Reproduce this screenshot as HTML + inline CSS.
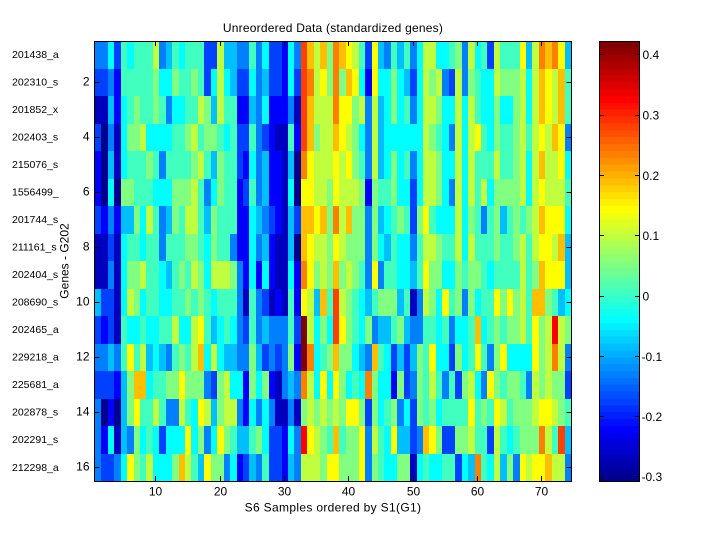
<!DOCTYPE html>
<html><head><meta charset="utf-8"><style>
body{margin:0;width:720px;height:540px;background:#fff;position:relative;overflow:hidden}
.hm{position:absolute;left:95px;top:41px;width:476px;height:440px;display:grid;grid-template-columns:repeat(74,1fr);grid-template-rows:repeat(16,1fr)}
.hm>*{display:block}
k0{background:#00008f}k1{background:#0000bf}k2{background:#0000ff}k3{background:#0040ff}k4{background:#0080ff}k5{background:#00bfff}k6{background:#00ffff}k7{background:#40ffbf}k8{background:#80ff80}k9{background:#bfff40}ka{background:#ffff00}kb{background:#ffbf00}kc{background:#ff8000}kd{background:#ff4000}ke{background:#ff0000}kf{background:#bf0000}kg{background:#800000}
.cb{position:absolute;left:600px;top:41px;width:40px;height:440px;background:linear-gradient(to top,#00008f 0 1.5625%,#00009f 0 3.125%,#0000af 0 4.6875%,#0000bf 0 6.25%,#0000cf 0 7.8125%,#0000df 0 9.375%,#0000ef 0 10.9375%,#0000ff 0 12.5%,#0010ff 0 14.0625%,#0020ff 0 15.625%,#0030ff 0 17.1875%,#0040ff 0 18.75%,#0050ff 0 20.3125%,#0060ff 0 21.875%,#0070ff 0 23.4375%,#0080ff 0 25%,#008fff 0 26.5625%,#009fff 0 28.125%,#00afff 0 29.6875%,#00bfff 0 31.25%,#00cfff 0 32.8125%,#00dfff 0 34.375%,#00efff 0 35.9375%,#00ffff 0 37.5%,#10ffef 0 39.0625%,#20ffdf 0 40.625%,#30ffcf 0 42.1875%,#40ffbf 0 43.75%,#50ffaf 0 45.3125%,#60ff9f 0 46.875%,#70ff8f 0 48.4375%,#80ff80 0 50%,#8fff70 0 51.5625%,#9fff60 0 53.125%,#afff50 0 54.6875%,#bfff40 0 56.25%,#cfff30 0 57.8125%,#dfff20 0 59.375%,#efff10 0 60.9375%,#ffff00 0 62.5%,#ffef00 0 64.0625%,#ffdf00 0 65.625%,#ffcf00 0 67.1875%,#ffbf00 0 68.75%,#ffaf00 0 70.3125%,#ff9f00 0 71.875%,#ff8f00 0 73.4375%,#ff8000 0 75%,#ff7000 0 76.5625%,#ff6000 0 78.125%,#ff5000 0 79.6875%,#ff4000 0 81.25%,#ff3000 0 82.8125%,#ff2000 0 84.375%,#ff1000 0 85.9375%,#ff0000 0 87.5%,#ef0000 0 89.0625%,#df0000 0 90.625%,#cf0000 0 92.1875%,#bf0000 0 93.75%,#af0000 0 95.3125%,#9f0000 0 96.875%,#8f0000 0 98.4375%,#800000 0 100%)}
svg{position:absolute;left:0;top:0}
</style></head><body>
<div class="hm">
<k4></k4><k4></k4><k6></k6><k3></k3><k7></k7><k6></k6><k7></k7><k7></k7><k7></k7><k9></k9><k4></k4><k5></k5><k7></k7><k6></k6><k7></k7><k7></k7><k7></k7><k3></k3><k3></k3><k9></k9><k5></k5><k5></k5><k4></k4><k4></k4><k7></k7><k4></k4><k6></k6><k3></k3><k3></k3><k2></k2><k6></k6><k4></k4><kd></kd><kb></kb><k9></k9><kb></kb><k8></k8><kc></kc><kb></kb><ka></ka><k9></k9><k7></k7><k3></k3><ka></ka><k5></k5><k4></k4><k7></k7><k5></k5><k7></k7><k4></k4><k6></k6><k9></k9><k9></k9><k6></k6><k6></k6><k7></k7><k8></k8><k4></k4><k9></k9><k6></k6><k7></k7><k3></k3><k9></k9><k7></k7><k7></k7><k7></k7><ka></ka><k5></k5><k9></k9><kc></kc><kb></kb><kc></kc><ka></ka><k5></k5>
<k3></k3><k3></k3><k4></k4><k2></k2><k7></k7><k7></k7><k7></k7><k7></k7><k7></k7><k8></k8><k6></k6><k6></k6><k8></k8><k7></k7><k7></k7><k8></k8><k7></k7><k3></k3><k6></k6><k9></k9><k6></k6><k5></k5><k3></k3><k3></k3><k6></k6><k4></k4><k5></k5><k3></k3><k3></k3><k2></k2><k6></k6><k3></k3><kd></kd><kc></kc><k9></k9><ka></ka><k8></k8><kc></kc><k8></k8><kb></kb><ka></ka><k6></k6><k2></k2><ka></ka><k6></k6><k6></k6><k8></k8><k6></k6><k5></k5><k3></k3><k6></k6><k9></k9><k8></k8><k9></k9><k4></k4><k3></k3><k9></k9><k4></k4><k8></k8><k7></k7><k6></k6><k6></k6><k9></k9><k8></k8><k8></k8><k8></k8><k9></k9><k6></k6><k9></k9><kb></kb><ka></ka><k9></k9><kb></kb><k7></k7>
<k1></k1><k1></k1><k5></k5><k2></k2><k6></k6><k7></k7><k8></k8><k7></k7><k7></k7><k8></k8><k7></k7><k4></k4><k6></k6><k6></k6><k7></k7><k7></k7><k9></k9><k8></k8><k5></k5><k9></k9><k7></k7><k7></k7><k2></k2><k2></k2><k5></k5><k4></k4><k6></k6><k2></k2><k2></k2><k2></k2><k4></k4><k1></k1><kd></kd><kb></kb><k9></k9><k9></k9><k9></k9><kc></kc><ka></ka><ka></ka><k8></k8><k9></k9><k4></k4><k9></k9><k5></k5><k6></k6><k8></k8><k6></k6><k7></k7><k4></k4><k6></k6><k9></k9><k9></k9><k8></k8><k6></k6><k6></k6><k9></k9><k6></k6><k9></k9><k7></k7><k6></k6><k6></k6><k8></k8><k6></k6><k6></k6><k8></k8><k9></k9><k6></k6><k9></k9><kb></kb><ka></ka><k9></k9><kb></kb><k7></k7>
<k3></k3><k0></k0><k4></k4><k1></k1><k6></k6><k8></k8><k8></k8><k9></k9><k6></k6><k6></k6><k6></k6><k6></k6><k7></k7><k7></k7><k8></k8><k9></k9><k7></k7><k8></k8><k8></k8><k7></k7><k6></k6><k7></k7><k3></k3><k3></k3><k7></k7><k4></k4><k3></k3><k2></k2><k1></k1><k1></k1><k7></k7><k2></k2><kd></kd><kb></kb><k8></k8><k9></k9><k9></k9><kb></kb><ka></ka><k9></k9><k8></k8><k6></k6><k4></k4><k9></k9><k5></k5><k6></k6><k6></k6><k6></k6><k6></k6><k6></k6><k6></k6><k9></k9><k8></k8><k7></k7><k6></k6><k4></k4><k9></k9><k6></k6><k9></k9><ka></ka><k7></k7><k6></k6><k8></k8><k7></k7><k7></k7><k8></k8><k9></k9><k7></k7><k9></k9><ka></ka><k9></k9><kb></kb><ka></ka><k4></k4>
<k2></k2><k0></k0><k5></k5><k1></k1><k6></k6><k7></k7><k7></k7><k7></k7><k8></k8><k7></k7><k4></k4><k7></k7><k7></k7><k7></k7><k7></k7><k8></k8><k9></k9><k7></k7><k5></k5><k8></k8><k7></k7><k7></k7><k3></k3><k2></k2><k6></k6><k4></k4><k5></k5><k2></k2><k2></k2><k1></k1><k5></k5><k0></k0><kc></kc><ka></ka><k9></k9><k9></k9><k9></k9><ka></ka><k9></k9><ka></ka><k8></k8><k7></k7><k4></k4><k9></k9><k5></k5><k6></k6><k8></k8><k6></k6><k7></k7><k4></k4><k6></k6><k9></k9><k9></k9><k8></k8><k6></k6><k6></k6><k9></k9><k6></k6><k9></k9><k7></k7><k7></k7><k7></k7><k9></k9><k7></k7><k7></k7><k8></k8><k9></k9><k6></k6><k9></k9><kb></kb><k9></k9><k9></k9><ka></ka><k6></k6>
<k2></k2><k0></k0><k6></k6><k0></k0><k8></k8><k8></k8><k7></k7><k7></k7><k7></k7><k6></k6><k6></k6><k6></k6><k8></k8><k8></k8><k8></k8><k9></k9><k7></k7><k4></k4><k6></k6><k8></k8><k7></k7><k7></k7><k2></k2><k3></k3><k7></k7><k4></k4><k5></k5><k2></k2><k2></k2><k1></k1><k6></k6><k0></k0><ka></ka><ka></ka><k9></k9><k9></k9><k8></k8><ka></ka><k9></k9><k9></k9><k9></k9><k8></k8><k2></k2><k8></k8><k7></k7><k7></k7><k8></k8><k6></k6><k6></k6><k3></k3><k6></k6><k9></k9><k9></k9><k8></k8><k6></k6><k4></k4><k9></k9><k6></k6><k9></k9><k7></k7><k9></k9><k6></k6><k8></k8><k8></k8><k8></k8><k8></k8><k9></k9><k6></k6><k9></k9><ka></ka><k9></k9><k9></k9><k9></k9><k7></k7>
<k3></k3><k2></k2><k4></k4><k2></k2><k5></k5><k5></k5><k8></k8><k6></k6><k9></k9><k7></k7><k4></k4><k5></k5><k8></k8><k7></k7><k9></k9><k9></k9><k7></k7><k5></k5><k8></k8><k7></k7><k7></k7><k7></k7><k2></k2><k2></k2><k6></k6><k5></k5><k4></k4><k3></k3><k2></k2><k1></k1><k5></k5><k3></k3><kb></kb><kb></kb><ka></ka><kb></kb><k8></k8><kc></kc><k9></k9><kb></kb><k8></k8><k8></k8><k4></k4><k8></k8><k5></k5><k6></k6><k7></k7><k8></k8><k7></k7><k3></k3><k8></k8><ka></ka><k7></k7><k6></k6><k6></k6><k6></k6><k9></k9><k6></k6><k8></k8><k7></k7><k4></k4><k7></k7><k8></k8><k5></k5><k7></k7><k8></k8><k7></k7><k8></k8><k9></k9><kb></kb><ka></ka><ka></ka><ka></ka><k6></k6>
<k1></k1><k1></k1><k3></k3><k1></k1><k6></k6><k7></k7><k7></k7><k6></k6><k7></k7><k7></k7><k4></k4><k7></k7><k7></k7><k7></k7><k8></k8><k8></k8><k7></k7><k6></k6><k8></k8><k7></k7><k7></k7><k4></k4><k2></k2><k2></k2><k6></k6><k4></k4><k5></k5><k2></k2><k1></k1><k1></k1><k5></k5><k0></k0><kb></kb><ka></ka><k9></k9><k9></k9><k8></k8><ka></ka><k9></k9><k8></k8><k8></k8><k8></k8><k4></k4><k8></k8><k6></k6><k5></k5><k7></k7><k6></k6><k6></k6><k4></k4><k7></k7><k9></k9><k9></k9><k8></k8><k7></k7><k7></k7><k9></k9><k6></k6><k9></k9><k7></k7><k7></k7><k7></k7><k8></k8><k7></k7><k7></k7><k8></k8><k9></k9><k7></k7><k9></k9><ka></ka><ka></ka><k9></k9><kb></kb><k5></k5>
<k1></k1><k1></k1><k4></k4><k1></k1><k6></k6><k8></k8><k8></k8><k9></k9><k7></k7><k7></k7><k6></k6><k5></k5><k7></k7><k8></k8><k7></k7><k9></k9><k8></k8><k6></k6><k9></k9><k9></k9><k9></k9><k8></k8><k4></k4><k2></k2><k6></k6><k2></k2><k6></k6><k2></k2><k1></k1><k1></k1><k6></k6><k2></k2><kc></kc><ka></ka><k8></k8><k9></k9><k8></k8><kb></kb><k8></k8><k9></k9><k8></k8><k7></k7><k4></k4><ka></ka><k4></k4><k7></k7><k7></k7><k6></k6><k6></k6><k5></k5><k7></k7><ka></ka><k8></k8><k8></k8><k6></k6><k6></k6><k8></k8><k7></k7><k8></k8><k8></k8><k7></k7><k6></k6><k7></k7><k7></k7><k7></k7><k7></k7><k9></k9><k7></k7><k8></k8><kb></kb><ka></ka><ka></ka><ka></ka><k5></k5>
<k5></k5><k3></k3><k3></k3><k1></k1><k6></k6><k9></k9><k8></k8><k6></k6><k7></k7><k7></k7><k6></k6><k6></k6><k7></k7><k7></k7><k8></k8><k7></k7><k8></k8><k7></k7><k6></k6><k7></k7><k7></k7><k7></k7><k4></k4><k1></k1><k7></k7><k4></k4><k3></k3><k1></k1><k2></k2><k1></k1><k7></k7><k2></k2><ka></ka><k9></k9><k5></k5><kb></kb><k7></k7><kd></kd><k9></k9><k8></k8><k7></k7><k6></k6><k5></k5><k7></k7><k8></k8><k8></k8><k8></k8><k5></k5><k7></k7><k1></k1><k4></k4><k9></k9><k8></k8><k6></k6><ka></ka><k7></k7><k8></k8><k4></k4><k8></k8><k6></k6><k7></k7><k7></k7><ka></ka><k8></k8><ka></ka><k8></k8><k9></k9><k7></k7><kb></kb><kb></kb><k8></k8><k7></k7><k5></k5><k6></k6>
<k3></k3><k2></k2><k3></k3><k1></k1><k7></k7><k6></k6><k6></k6><k7></k7><k6></k6><k6></k6><k7></k7><k7></k7><k9></k9><k6></k6><k6></k6><k9></k9><ka></ka><k7></k7><k5></k5><k6></k6><k7></k7><k6></k6><k4></k4><k3></k3><k7></k7><k4></k4><k5></k5><k4></k4><k4></k4><k4></k4><k7></k7><k3></k3><kg></kg><k9></k9><k6></k6><k8></k8><k6></k6><kd></kd><ka></ka><k8></k8><k7></k7><k6></k6><k8></k8><k4></k4><k5></k5><k5></k5><k7></k7><k8></k8><k5></k5><k4></k4><k4></k4><k7></k7><k7></k7><k6></k6><k7></k7><k4></k4><k6></k6><k6></k6><k7></k7><kb></kb><k6></k6><k7></k7><k8></k8><k7></k7><k8></k8><k8></k8><k9></k9><k7></k7><ka></ka><k8></k8><k9></k9><ke></ke><k9></k9><k8></k8>
<k4></k4><k4></k4><k5></k5><k4></k4><k7></k7><ka></ka><k7></k7><k9></k9><k5></k5><k6></k6><k5></k5><k4></k4><k7></k7><k8></k8><k7></k7><k9></k9><kb></kb><k6></k6><k9></k9><k6></k6><k5></k5><k5></k5><k4></k4><k4></k4><k8></k8><k5></k5><k3></k3><k4></k4><k3></k3><k4></k4><k8></k8><k2></k2><kg></kg><kc></kc><k6></k6><k7></k7><k8></k8><kb></kb><k8></k8><k8></k8><k6></k6><k5></k5><k4></k4><kb></kb><k7></k7><k6></k6><k3></k3><k5></k5><k3></k3><k5></k5><k8></k8><k7></k7><ka></ka><k6></k6><k6></k6><k3></k3><k8></k8><k6></k6><k7></k7><ka></ka><k7></k7><k4></k4><k8></k8><ka></ka><k6></k6><k6></k6><k6></k6><k6></k6><ka></ka><k8></k8><k9></k9><kc></kc><k9></k9><k4></k4>
<k3></k3><k3></k3><k3></k3><k2></k2><k5></k5><k8></k8><kb></kb><kb></kb><k6></k6><k7></k7><k7></k7><k8></k8><k8></k8><ka></ka><k8></k8><k8></k8><k8></k8><k4></k4><k3></k3><k8></k8><k9></k9><k6></k6><k6></k6><k2></k2><k8></k8><k6></k6><k8></k8><k2></k2><k1></k1><k4></k4><k5></k5><k4></k4><kc></kc><k9></k9><k6></k6><ka></ka><k6></k6><ka></ka><k8></k8><k6></k6><k7></k7><k6></k6><kc></kc><k8></k8><k6></k6><k6></k6><k2></k2><k8></k8><k3></k3><k4></k4><k8></k8><k7></k7><k9></k9><k7></k7><k4></k4><k7></k7><k3></k3><k8></k8><k9></k9><k6></k6><k4></k4><ka></ka><k8></k8><k7></k7><k8></k8><k8></k8><k7></k7><k4></k4><k9></k9><k8></k8><k9></k9><k8></k8><k8></k8><k3></k3>
<k4></k4><k0></k0><k2></k2><k0></k0><k5></k5><k8></k8><ka></ka><k7></k7><k7></k7><k9></k9><k7></k7><k4></k4><k4></k4><k9></k9><k7></k7><k6></k6><ka></ka><k9></k9><k5></k5><k8></k8><k9></k9><k9></k9><k4></k4><k2></k2><k6></k6><k4></k4><k6></k6><k4></k4><k1></k1><k1></k1><k4></k4><k1></k1><k8></k8><k9></k9><k8></k8><k9></k9><k8></k8><k9></k9><k8></k8><ka></ka><ka></ka><k8></k8><k3></k3><k8></k8><k6></k6><k7></k7><k8></k8><k4></k4><k6></k6><k3></k3><k8></k8><k7></k7><k8></k8><k6></k6><k7></k7><k7></k7><k7></k7><k7></k7><ka></ka><k7></k7><k8></k8><k7></k7><ka></ka><k9></k9><k7></k7><k8></k8><k8></k8><k8></k8><k9></k9><ka></ka><ka></ka><k9></k9><k8></k8><k7></k7>
<k4></k4><k2></k2><k6></k6><k1></k1><k5></k5><k4></k4><k8></k8><k6></k6><k7></k7><k6></k6><k3></k3><k6></k6><k6></k6><k6></k6><ka></ka><k6></k6><k8></k8><k4></k4><k6></k6><ka></ka><k8></k8><k7></k7><k5></k5><k5></k5><k7></k7><k8></k8><k6></k6><k3></k3><k3></k3><k2></k2><k6></k6><k4></k4><ke></ke><ka></ka><k9></k9><k8></k8><k7></k7><kb></kb><k7></k7><k8></k8><k8></k8><ka></ka><k4></k4><k9></k9><k7></k7><k6></k6><ka></ka><k5></k5><k5></k5><k3></k3><k4></k4><kb></kb><ka></ka><k8></k8><k3></k3><k3></k3><k8></k8><k8></k8><k9></k9><k7></k7><k7></k7><k3></k3><k9></k9><k7></k7><k6></k6><k7></k7><k8></k8><k8></k8><k8></k8><kc></kc><k9></k9><k7></k7><kd></kd><k5></k5>
<k4></k4><k3></k3><k3></k3><k4></k4><k6></k6><ka></ka><k8></k8><k7></k7><k9></k9><k6></k6><k6></k6><k6></k6><k8></k8><kb></kb><k9></k9><k7></k7><k5></k5><ka></ka><k8></k8><k8></k8><k4></k4><k6></k6><k2></k2><k3></k3><k5></k5><k4></k4><k7></k7><k3></k3><k3></k3><k2></k2><k5></k5><k4></k4><k9></k9><k9></k9><k9></k9><k8></k8><ka></ka><ka></ka><k8></k8><k8></k8><k8></k8><ka></ka><k4></k4><k8></k8><k7></k7><k6></k6><k6></k6><k8></k8><k8></k8><k1></k1><k6></k6><k7></k7><k6></k6><k6></k6><k7></k7><k7></k7><k3></k3><k6></k6><k5></k5><kc></kc><k7></k7><k6></k6><k9></k9><k5></k5><k8></k8><k4></k4><ka></ka><k9></k9><ka></ka><ka></ka><kb></kb><k9></k9><k9></k9><k4></k4>
</div>
<div class="cb"></div>
<svg width="720" height="540" viewBox="0 0 720 540" font-family="Liberation Sans, Arial, sans-serif" font-size="12" fill="#000">
<g stroke="#000" stroke-width="1" fill="none">
<rect x="94.5" y="41.5" width="477" height="440"/>
<rect x="599.5" y="41.5" width="40" height="440"/>
<path d="M155.5 481V476M220.5 481V476M284.5 481V476M348.5 481V476M413.5 481V476M477.5 481V476M541.5 481V476M155.5 42V46M220.5 42V46M284.5 42V46M348.5 42V46M413.5 42V46M477.5 42V46M541.5 42V46"/>
<path d="M95 82.5H99.5M95 137.5H99.5M95 192.5H99.5M95 247.5H99.5M95 302.5H99.5M95 357.5H99.5M95 412.5H99.5M95 467.5H99.5M571 82.5H566.5M571 137.5H566.5M571 192.5H566.5M571 247.5H566.5M571 302.5H566.5M571 357.5H566.5M571 412.5H566.5M571 467.5H566.5"/>
<path d="M600 54.5H604M600 115.5H604M600 175.5H604M600 235.5H604M600 296.5H604M600 356.5H604M600 416.5H604M600 476.5H604M639 54.5H635M639 115.5H635M639 175.5H635M639 235.5H635M639 296.5H635M639 356.5H635M639 416.5H635M639 476.5H635"/>
</g>
<text x="333" y="32" text-anchor="middle" letter-spacing="0.22">Unreordered Data (standardized genes)</text>
<g text-anchor="middle">
<text x="155.5" y="495.5">10</text>
<text x="220.5" y="495.5">20</text>
<text x="284.5" y="495.5">30</text>
<text x="348.5" y="495.5">40</text>
<text x="413.5" y="495.5">50</text>
<text x="477.5" y="495.5">60</text>
<text x="541.5" y="495.5">70</text>
</g>
<text x="333" y="511.5" text-anchor="middle" letter-spacing="0.33">S6 Samples ordered by S1(G1)</text>
<g text-anchor="end">
<text x="89.5" y="85.5">2</text>
<text x="89.5" y="140.5">4</text>
<text x="89.5" y="195.5">6</text>
<text x="89.5" y="250.5">8</text>
<text x="89.5" y="305.5">10</text>
<text x="89.5" y="360.5">12</text>
<text x="89.5" y="415.5">14</text>
<text x="89.5" y="470.5">16</text>
</g>
<g font-size="10.5">
<text x="12" y="57.8">201438_a</text>
<text x="12" y="85.3">202310_s</text>
<text x="12" y="112.8">201852_x</text>
<text x="12" y="140.4">202403_s</text>
<text x="12" y="167.9">215076_s</text>
<text x="12" y="195.4">1556499_</text>
<text x="12" y="223">201744_s</text>
<text x="12" y="250.5">211161_s</text>
<text x="12" y="278">202404_s</text>
<text x="12" y="305.6">208690_s</text>
<text x="12" y="333.1">202465_a</text>
<text x="12" y="360.6">229218_a</text>
<text x="12" y="388.2">225681_a</text>
<text x="12" y="415.7">202878_s</text>
<text x="12" y="443.2">202291_s</text>
<text x="12" y="470.8">212298_a</text>
</g>
<text transform="translate(68.3,261) rotate(-90)" text-anchor="middle">Genes - G202</text>
<g>
<text x="642.5" y="59">0.4</text>
<text x="642.5" y="119.5">0.3</text>
<text x="642.5" y="180">0.2</text>
<text x="642.5" y="240">0.1</text>
<text x="642.5" y="300.5">0</text>
<text x="641.5" y="361">-0.1</text>
<text x="641.5" y="421">-0.2</text>
<text x="641.5" y="481">-0.3</text>
</g>
</svg>
</body></html>
